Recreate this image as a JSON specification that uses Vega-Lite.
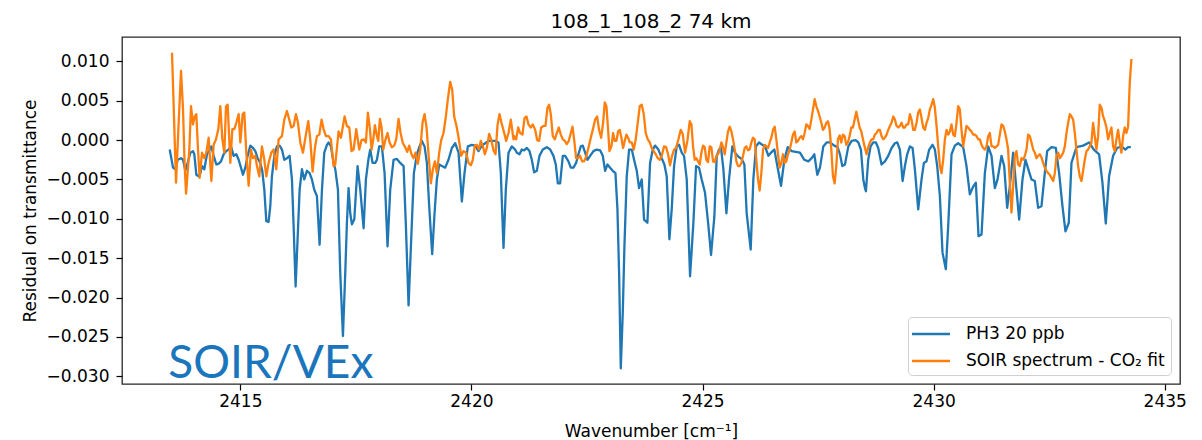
{
"$schema": "https://vega.github.io/schema/vega-lite/v6.json",
"width": 1058,
"height": 347,
"padding": {"left": 21, "top": 12, "right": 10, "bottom": 2},
"background": "white",
"title": {"text": "108_1_108_2 74 km", "fontSize": 20, "fontWeight": "normal", "color": "#000", "offset": -11, "baseline": "alphabetic", "anchor": "middle"},
"datasets": {
"ph3": [
{"w":2413.472,"r":-0.0012},{"w":2413.544,"r":-0.0035},{"w":2413.594,"r":-0.0037},{"w":2413.645,"r":-0.0025},{"w":2413.717,"r":-0.0023},{"w":2413.760,"r":-0.0025},{"w":2413.811,"r":-0.0039},{"w":2413.861,"r":-0.0029},{"w":2413.919,"r":-0.0016},{"w":2413.976,"r":-0.0014},{"w":2414.005,"r":-0.0018},{"w":2414.048,"r":-0.0044},{"w":2414.099,"r":-0.0046},{"w":2414.135,"r":-0.0042},{"w":2414.171,"r":-0.0033},{"w":2414.221,"r":-0.0037},{"w":2414.279,"r":-0.0018},{"w":2414.337,"r":-0.0012},{"w":2414.373,"r":-0.0008},{"w":2414.423,"r":-0.0020},{"w":2414.481,"r":-0.0031},{"w":2414.531,"r":-0.0030},{"w":2414.582,"r":-0.0027},{"w":2414.639,"r":-0.0018},{"w":2414.697,"r":-0.0014},{"w":2414.747,"r":-0.0012},{"w":2414.798,"r":-0.0008},{"w":2414.856,"r":-0.0020},{"w":2414.913,"r":-0.0018},{"w":2414.964,"r":-0.0025},{"w":2415.014,"r":-0.0035},{"w":2415.057,"r":-0.0044},{"w":2415.108,"r":-0.0035},{"w":2415.158,"r":-0.0020},{"w":2415.216,"r":-0.0007},{"w":2415.274,"r":-0.0010},{"w":2415.324,"r":-0.0014},{"w":2415.374,"r":-0.0023},{"w":2415.432,"r":-0.0029},{"w":2415.475,"r":-0.0039},{"w":2415.519,"r":-0.0063},{"w":2415.562,"r":-0.0103},{"w":2415.612,"r":-0.0104},{"w":2415.648,"r":-0.0084},{"w":2415.684,"r":-0.0046},{"w":2415.735,"r":-0.0020},{"w":2415.792,"r":-0.0008},{"w":2415.850,"r":-0.0007},{"w":2415.901,"r":-0.0012},{"w":2415.951,"r":-0.0025},{"w":2416.009,"r":-0.0023},{"w":2416.066,"r":-0.0020},{"w":2416.117,"r":-0.0050},{"w":2416.153,"r":-0.0109},{"w":2416.196,"r":-0.0186},{"w":2416.239,"r":-0.0126},{"w":2416.283,"r":-0.0063},{"w":2416.333,"r":-0.0037},{"w":2416.383,"r":-0.0050},{"w":2416.441,"r":-0.0039},{"w":2416.499,"r":-0.0042},{"w":2416.549,"r":-0.0050},{"w":2416.600,"r":-0.0063},{"w":2416.657,"r":-0.0071},{"w":2416.715,"r":-0.0133},{"w":2416.766,"r":-0.0063},{"w":2416.816,"r":-0.0016},{"w":2416.874,"r":-0.0006},{"w":2416.910,"r":-0.0003},{"w":2416.960,"r":-0.0008},{"w":2417.018,"r":-0.0029},
{"w":2417.054,"r":-0.0037},{"w":2417.112,"r":-0.0063},{"w":2417.162,"r":-0.0169},{"w":2417.220,"r":-0.0249},{"w":2417.270,"r":-0.0169},{"w":2417.306,"r":-0.0105},{"w":2417.342,"r":-0.0061},{"w":2417.378,"r":-0.0093},{"w":2417.414,"r":-0.0107},{"w":2417.465,"r":-0.0101},{"w":2417.537,"r":-0.0033},{"w":2417.595,"r":-0.0063},{"w":2417.667,"r":-0.0112},{"w":2417.717,"r":-0.0050},{"w":2417.775,"r":-0.0023},{"w":2417.811,"r":-0.0012},{"w":2417.861,"r":-0.0029},{"w":2417.919,"r":-0.0029},{"w":2417.955,"r":-0.0025},{"w":2418.005,"r":-0.0008},{"w":2418.063,"r":-0.0008},{"w":2418.121,"r":-0.0042},{"w":2418.185,"r":-0.0135},{"w":2418.243,"r":-0.0063},{"w":2418.315,"r":-0.0025},{"w":2418.387,"r":-0.0024},{"w":2418.459,"r":-0.0029},{"w":2418.532,"r":-0.0033},{"w":2418.582,"r":-0.0109},{"w":2418.640,"r":-0.0210},{"w":2418.697,"r":-0.0126},{"w":2418.755,"r":-0.0042},{"w":2418.820,"r":-0.0018},{"w":2418.877,"r":-0.0008},{"w":2418.928,"r":-0.0001},{"w":2418.986,"r":-0.0008},{"w":2419.036,"r":-0.0029},{"w":2419.086,"r":-0.0084},{"w":2419.151,"r":-0.0145},{"w":2419.202,"r":-0.0093},{"w":2419.252,"r":-0.0050},{"w":2419.303,"r":-0.0031},{"w":2419.360,"r":-0.0033},{"w":2419.432,"r":-0.0035},{"w":2419.504,"r":-0.0025},{"w":2419.577,"r":-0.0010},{"w":2419.649,"r":-0.0004},{"w":2419.721,"r":-0.0016},{"w":2419.793,"r":-0.0078},{"w":2419.850,"r":-0.0042},{"w":2419.922,"r":-0.0008},{"w":2420.009,"r":-0.0006},{"w":2420.081,"r":-0.0007},{"w":2420.153,"r":-0.0014},{"w":2420.225,"r":-0.0007},{"w":2420.297,"r":-0.0004},{"w":2420.369,"r":-0.0001},{"w":2420.441,"r":-0.0001},{"w":2420.513,"r":-0.0001},{"w":2420.586,"r":-0.0003},{"w":2420.636,"r":-0.0042},{"w":2420.694,"r":-0.0137},{"w":2420.744,"r":-0.0063},{"w":2420.802,"r":-0.0016},{"w":2420.874,"r":-0.0008},{"w":2420.946,"r":-0.0012},
{"w":2420.982,"r":-0.0016},{"w":2421.040,"r":-0.0018},{"w":2421.090,"r":-0.0012},{"w":2421.141,"r":-0.0013},{"w":2421.198,"r":-0.0010},{"w":2421.256,"r":-0.0014},{"w":2421.306,"r":-0.0025},{"w":2421.357,"r":-0.0041},{"w":2421.415,"r":-0.0039},{"w":2421.472,"r":-0.0020},{"w":2421.544,"r":-0.0012},{"w":2421.631,"r":-0.0009},{"w":2421.703,"r":-0.0012},{"w":2421.775,"r":-0.0020},{"w":2421.825,"r":-0.0031},{"w":2421.869,"r":-0.0055},{"w":2421.919,"r":-0.0055},{"w":2421.977,"r":-0.0020},{"w":2422.027,"r":-0.0020},{"w":2422.099,"r":-0.0027},{"w":2422.150,"r":-0.0035},{"w":2422.207,"r":-0.0035},{"w":2422.265,"r":-0.0029},{"w":2422.315,"r":-0.0018},{"w":2422.366,"r":-0.0008},{"w":2422.409,"r":-0.0007},{"w":2422.460,"r":-0.0016},{"w":2422.510,"r":-0.0025},{"w":2422.568,"r":-0.0020},{"w":2422.640,"r":-0.0014},{"w":2422.712,"r":-0.0012},{"w":2422.784,"r":-0.0013},{"w":2422.842,"r":-0.0020},{"w":2422.892,"r":-0.0039},{"w":2422.943,"r":-0.0031},{"w":2423.000,"r":-0.0035},{"w":2423.058,"r":-0.0039},{"w":2423.116,"r":-0.0042},{"w":2423.159,"r":-0.0088},{"w":2423.195,"r":-0.0169},{"w":2423.231,"r":-0.0290},{"w":2423.274,"r":-0.0220},{"w":2423.310,"r":-0.0135},{"w":2423.360,"r":-0.0046},{"w":2423.411,"r":-0.0012},{"w":2423.469,"r":-0.0012},{"w":2423.519,"r":-0.0025},{"w":2423.577,"r":-0.0039},{"w":2423.627,"r":-0.0061},{"w":2423.685,"r":-0.0050},{"w":2423.735,"r":-0.0101},{"w":2423.807,"r":-0.0105},{"w":2423.865,"r":-0.0029},{"w":2423.923,"r":-0.0012},{"w":2423.973,"r":-0.0007},{"w":2424.045,"r":-0.0012},{"w":2424.117,"r":-0.0023},{"w":2424.175,"r":-0.0031},{"w":2424.225,"r":-0.0046},{"w":2424.283,"r":-0.0126},{"w":2424.333,"r":-0.0088},{"w":2424.384,"r":-0.0033},{"w":2424.441,"r":-0.0008},{"w":2424.492,"r":-0.0006},{"w":2424.550,"r":-0.0016},{"w":2424.600,"r":-0.0020},{"w":2424.658,"r":-0.0050},{"w":2424.730,"r":-0.0173},
{"w":2424.802,"r":-0.0105},{"w":2424.860,"r":-0.0033},{"w":2424.925,"r":-0.0035},{"w":2424.982,"r":-0.0050},{"w":2425.054,"r":-0.0067},{"w":2425.127,"r":-0.0109},{"w":2425.184,"r":-0.0146},{"w":2425.256,"r":-0.0097},{"w":2425.307,"r":-0.0020},{"w":2425.357,"r":-0.0012},{"w":2425.400,"r":-0.0010},{"w":2425.451,"r":-0.0037},{"w":2425.516,"r":-0.0093},{"w":2425.573,"r":-0.0050},{"w":2425.645,"r":-0.0008},{"w":2425.703,"r":-0.0016},{"w":2425.775,"r":-0.0021},{"w":2425.847,"r":-0.0024},{"w":2425.905,"r":-0.0031},{"w":2425.955,"r":-0.0093},{"w":2426.042,"r":-0.0139},{"w":2426.099,"r":-0.0050},{"w":2426.157,"r":-0.0008},{"w":2426.222,"r":-0.0003},{"w":2426.294,"r":-0.0006},{"w":2426.352,"r":-0.0008},{"w":2426.424,"r":-0.0020},{"w":2426.481,"r":-0.0016},{"w":2426.554,"r":-0.0012},{"w":2426.618,"r":-0.0033},{"w":2426.698,"r":-0.0058},{"w":2426.770,"r":-0.0025},{"w":2426.842,"r":-0.0009},{"w":2426.928,"r":-0.0014},{"w":2427.015,"r":-0.0015},{"w":2427.108,"r":-0.0016},{"w":2427.202,"r":-0.0025},{"w":2427.289,"r":-0.0027},{"w":2427.361,"r":-0.0023},{"w":2427.418,"r":-0.0018},{"w":2427.483,"r":-0.0044},{"w":2427.541,"r":-0.0035},{"w":2427.613,"r":-0.0008},{"w":2427.685,"r":-0.0003},{"w":2427.757,"r":-0.0003},{"w":2427.851,"r":-0.0007},{"w":2427.923,"r":-0.0009},{"w":2427.973,"r":-0.0018},{"w":2428.024,"r":-0.0033},{"w":2428.081,"r":-0.0031},{"w":2428.154,"r":-0.0008},{"w":2428.226,"r":-0.0001},{"w":2428.312,"r":0.0000},{"w":2428.370,"r":-0.0003},{"w":2428.427,"r":-0.0012},{"w":2428.478,"r":-0.0050},{"w":2428.514,"r":-0.0061},
{"w":2428.535,"r":-0.0065},{"w":2428.585,"r":-0.0025},{"w":2428.636,"r":-0.0008},{"w":2428.693,"r":-0.0003},{"w":2428.751,"r":-0.0003},{"w":2428.801,"r":-0.0010},{"w":2428.873,"r":-0.0031},{"w":2428.946,"r":-0.0027},{"w":2429.018,"r":-0.0020},{"w":2429.090,"r":-0.0010},{"w":2429.162,"r":-0.0004},{"w":2429.212,"r":-0.0003},{"w":2429.270,"r":-0.0012},{"w":2429.328,"r":-0.0052},{"w":2429.378,"r":-0.0033},{"w":2429.428,"r":-0.0018},{"w":2429.486,"r":-0.0008},{"w":2429.544,"r":-0.0010},{"w":2429.594,"r":-0.0037},{"w":2429.666,"r":-0.0088},{"w":2429.738,"r":-0.0050},{"w":2429.789,"r":-0.0029},{"w":2429.846,"r":-0.0027},{"w":2429.904,"r":-0.0012},{"w":2429.976,"r":-0.0006},{"w":2430.027,"r":-0.0012},{"w":2430.077,"r":-0.0033},{"w":2430.135,"r":-0.0071},{"w":2430.192,"r":-0.0143},{"w":2430.264,"r":-0.0164},{"w":2430.315,"r":-0.0109},{"w":2430.387,"r":-0.0018},{"w":2430.459,"r":-0.0007},{"w":2430.531,"r":-0.0004},{"w":2430.639,"r":-0.0009},{"w":2430.711,"r":-0.0033},{"w":2430.783,"r":-0.0069},{"w":2430.856,"r":-0.0059},{"w":2430.913,"r":-0.0054},{"w":2430.971,"r":-0.0122},{"w":2431.036,"r":-0.0120},{"w":2431.108,"r":-0.0042},{"w":2431.180,"r":-0.0008},{"w":2431.252,"r":-0.0020},{"w":2431.324,"r":-0.0061},{"w":2431.382,"r":-0.0050},{"w":2431.468,"r":-0.0020},{"w":2431.526,"r":-0.0033},{"w":2431.591,"r":-0.0086},{"w":2431.648,"r":-0.0059},{"w":2431.720,"r":-0.0016},{"w":2431.792,"r":-0.0063},{"w":2431.850,"r":-0.0101},{"w":2431.922,"r":-0.0050},{"w":2431.987,"r":-0.0025},{"w":2432.059,"r":-0.0039},{"w":2432.117,"r":-0.0050},{"w":2432.189,"r":-0.0052},{"w":2432.261,"r":-0.0086},
{"w":2432.333,"r":-0.0084},{"w":2432.405,"r":-0.0042},{"w":2432.456,"r":-0.0014},{"w":2432.549,"r":-0.0009},{"w":2432.643,"r":-0.0010},{"w":2432.715,"r":-0.0042},{"w":2432.787,"r":-0.0084},{"w":2432.852,"r":-0.0116},{"w":2432.924,"r":-0.0105},{"w":2432.982,"r":-0.0029},{"w":2433.090,"r":-0.0009},{"w":2433.234,"r":-0.0007},{"w":2433.364,"r":-0.0003},{"w":2433.465,"r":-0.0012},{"w":2433.580,"r":-0.0018},{"w":2433.652,"r":-0.0054},{"w":2433.724,"r":-0.0106},{"w":2433.796,"r":-0.0046},{"w":2433.883,"r":-0.0020},{"w":2433.969,"r":-0.0010},{"w":2434.063,"r":-0.0008},{"w":2434.149,"r":-0.0012},{"w":2434.207,"r":-0.0009},{"w":2434.265,"r":-0.0009}
],
"soir": [
{"w":2413.522,"r":0.0111},{"w":2413.558,"r":0.0043},{"w":2413.609,"r":-0.0054},{"w":2413.666,"r":0.0022},{"w":2413.717,"r":0.0088},{"w":2413.760,"r":0.0039},{"w":2413.796,"r":-0.0033},{"w":2413.826,"r":-0.0068},{"w":2413.897,"r":-0.0012},{"w":2413.933,"r":0.0043},{"w":2413.976,"r":0.0020},{"w":2414.012,"r":0.0030},{"w":2414.048,"r":0.0033},{"w":2414.084,"r":-0.0012},{"w":2414.120,"r":-0.0048},{"w":2414.171,"r":-0.0016},{"w":2414.221,"r":-0.0023},{"w":2414.264,"r":-0.0016},{"w":2414.315,"r":0.0003},{"w":2414.373,"r":-0.0052},{"w":2414.423,"r":-0.0006},{"w":2414.474,"r":0.0001},{"w":2414.524,"r":0.0014},{"w":2414.567,"r":0.0043},{"w":2414.611,"r":0.0001},{"w":2414.654,"r":-0.0016},{"w":2414.690,"r":0.0043},{"w":2414.726,"r":0.0045},{"w":2414.784,"r":-0.0029},{"w":2414.827,"r":0.0014},{"w":2414.870,"r":0.0014},{"w":2414.913,"r":0.0022},{"w":2414.964,"r":0.0033},{"w":2415.000,"r":-0.0003},{"w":2415.050,"r":0.0033},{"w":2415.086,"r":0.0035},{"w":2415.129,"r":-0.0016},{"w":2415.180,"r":-0.0058},{"w":2415.230,"r":-0.0012},{"w":2415.274,"r":-0.0023},{"w":2415.324,"r":-0.0020},{"w":2415.360,"r":-0.0033},{"w":2415.410,"r":-0.0046},{"w":2415.468,"r":-0.0008},{"w":2415.519,"r":-0.0025},{"w":2415.562,"r":-0.0046},{"w":2415.612,"r":-0.0029},{"w":2415.670,"r":-0.0016},{"w":2415.720,"r":-0.0012},{"w":2415.778,"r":-0.0037},{"w":2415.829,"r":0.0001},{"w":2415.865,"r":0.0003},{"w":2415.901,"r":0.0005},{"w":2415.951,"r":0.0026},{"w":2416.009,"r":0.0037},{"w":2416.059,"r":0.0026},{"w":2416.102,"r":0.0016},{"w":2416.153,"r":0.0018},{"w":2416.203,"r":0.0033},{"w":2416.247,"r":0.0022},{"w":2416.297,"r":-0.0003},{"w":2416.355,"r":-0.0016},{"w":2416.413,"r":0.0005},{"w":2416.470,"r":0.0024},{"w":2416.513,"r":0.0001},{"w":2416.564,"r":-0.0040},{"w":2416.614,"r":-0.0010},{"w":2416.657,"r":0.0005},{"w":2416.708,"r":0.0007},{"w":2416.758,"r":0.0026},{"w":2416.801,"r":0.0014},{"w":2416.852,"r":0.0005},{"w":2416.910,"r":0.0005},{"w":2416.960,"r":0.0001},{"w":2417.018,"r":-0.0033},
{"w":2417.054,"r":-0.0031},{"w":2417.126,"r":0.0011},{"w":2417.177,"r":0.0003},{"w":2417.256,"r":0.0030},{"w":2417.306,"r":0.0018},{"w":2417.357,"r":0.0016},{"w":2417.407,"r":-0.0014},{"w":2417.450,"r":-0.0012},{"w":2417.508,"r":0.0014},{"w":2417.573,"r":-0.0012},{"w":2417.623,"r":0.0000},{"w":2417.674,"r":0.0001},{"w":2417.717,"r":-0.0003},{"w":2417.760,"r":0.0035},{"w":2417.804,"r":0.0014},{"w":2417.840,"r":-0.0012},{"w":2417.876,"r":0.0001},{"w":2417.912,"r":0.0019},{"w":2417.948,"r":0.0007},{"w":2417.984,"r":-0.0001},{"w":2418.020,"r":0.0027},{"w":2418.056,"r":0.0016},{"w":2418.092,"r":-0.0012},{"w":2418.142,"r":0.0001},{"w":2418.185,"r":0.0009},{"w":2418.229,"r":-0.0003},{"w":2418.279,"r":-0.0009},{"w":2418.330,"r":-0.0007},{"w":2418.373,"r":0.0001},{"w":2418.423,"r":0.0027},{"w":2418.467,"r":0.0009},{"w":2418.517,"r":-0.0004},{"w":2418.567,"r":-0.0009},{"w":2418.611,"r":-0.0015},{"w":2418.654,"r":-0.0007},{"w":2418.704,"r":-0.0018},{"w":2418.748,"r":-0.0023},{"w":2418.791,"r":-0.0016},{"w":2418.841,"r":-0.0030},{"w":2418.892,"r":-0.0012},{"w":2418.942,"r":0.0022},{"w":2418.986,"r":0.0033},{"w":2419.029,"r":0.0016},{"w":2419.072,"r":-0.0018},{"w":2419.122,"r":-0.0055},{"w":2419.166,"r":-0.0037},{"w":2419.209,"r":-0.0027},{"w":2419.252,"r":-0.0042},{"w":2419.303,"r":-0.0016},{"w":2419.346,"r":0.0000},{"w":2419.396,"r":0.0009},{"w":2419.447,"r":0.0030},{"w":2419.490,"r":0.0052},{"w":2419.540,"r":0.0074},{"w":2419.584,"r":0.0064},{"w":2419.627,"r":0.0030},{"w":2419.677,"r":0.0018},{"w":2419.728,"r":0.0001},{"w":2419.778,"r":-0.0020},{"w":2419.829,"r":-0.0014},{"w":2419.886,"r":-0.0016},{"w":2419.937,"r":-0.0029},{"w":2419.987,"r":-0.0032},{"w":2420.030,"r":-0.0025},{"w":2420.074,"r":-0.0007},{"w":2420.117,"r":-0.0006},{"w":2420.160,"r":-0.0012},{"w":2420.203,"r":-0.0001},{"w":2420.247,"r":-0.0008},{"w":2420.290,"r":-0.0018},{"w":2420.333,"r":-0.0010},{"w":2420.384,"r":0.0008},{"w":2420.427,"r":0.0001},{"w":2420.477,"r":-0.0013},{"w":2420.521,"r":-0.0018},{"w":2420.564,"r":0.0019},{"w":2420.607,"r":0.0033},{"w":2420.650,"r":0.0022},{"w":2420.701,"r":0.0011},{"w":2420.751,"r":-0.0001},{"w":2420.802,"r":0.0009},{"w":2420.852,"r":0.0026},{"w":2420.910,"r":0.0001},
{"w":2420.924,"r":0.0005},{"w":2420.968,"r":0.0001},{"w":2421.011,"r":0.0016},{"w":2421.054,"r":0.0009},{"w":2421.105,"r":0.0007},{"w":2421.148,"r":0.0028},{"w":2421.191,"r":0.0030},{"w":2421.234,"r":0.0020},{"w":2421.285,"r":0.0016},{"w":2421.328,"r":0.0020},{"w":2421.379,"r":0.0013},{"w":2421.422,"r":0.0000},{"w":2421.465,"r":-0.0001},{"w":2421.508,"r":0.0016},{"w":2421.559,"r":0.0018},{"w":2421.602,"r":0.0018},{"w":2421.645,"r":0.0041},{"w":2421.681,"r":0.0045},{"w":2421.717,"r":0.0033},{"w":2421.760,"r":0.0005},{"w":2421.804,"r":0.0001},{"w":2421.847,"r":0.0009},{"w":2421.890,"r":0.0016},{"w":2421.934,"r":0.0007},{"w":2421.977,"r":0.0001},{"w":2422.020,"r":-0.0001},{"w":2422.063,"r":-0.0005},{"w":2422.106,"r":-0.0001},{"w":2422.150,"r":0.0009},{"w":2422.186,"r":0.0017},{"w":2422.222,"r":0.0001},{"w":2422.265,"r":-0.0023},{"w":2422.308,"r":-0.0023},{"w":2422.351,"r":-0.0020},{"w":2422.395,"r":-0.0027},{"w":2422.438,"r":-0.0027},{"w":2422.488,"r":-0.0020},{"w":2422.539,"r":-0.0008},{"w":2422.582,"r":0.0003},{"w":2422.625,"r":0.0013},{"w":2422.676,"r":0.0026},{"w":2422.719,"r":0.0030},{"w":2422.762,"r":0.0013},{"w":2422.806,"r":0.0003},{"w":2422.849,"r":0.0022},{"w":2422.885,"r":0.0048},{"w":2422.921,"r":0.0043},{"w":2422.957,"r":0.0013},{"w":2422.986,"r":-0.0014},{"w":2423.029,"r":-0.0008},{"w":2423.065,"r":0.0009},{"w":2423.101,"r":-0.0001},{"w":2423.137,"r":-0.0001},{"w":2423.173,"r":0.0011},{"w":2423.209,"r":0.0013},{"w":2423.245,"r":0.0003},{"w":2423.281,"r":-0.0010},{"w":2423.317,"r":-0.0001},{"w":2423.353,"r":0.0007},{"w":2423.389,"r":0.0003},{"w":2423.425,"r":-0.0003},{"w":2423.469,"r":-0.0003},{"w":2423.512,"r":-0.0012},{"w":2423.555,"r":0.0001},{"w":2423.598,"r":0.0022},{"w":2423.642,"r":0.0043},{"w":2423.685,"r":0.0045},{"w":2423.728,"r":0.0033},{"w":2423.771,"r":0.0009},{"w":2423.815,"r":0.0001},{"w":2423.858,"r":-0.0003},{"w":2423.901,"r":-0.0010},{"w":2423.944,"r":-0.0014},{"w":2423.988,"r":-0.0018},{"w":2424.031,"r":-0.0023},{"w":2424.074,"r":-0.0025},{"w":2424.117,"r":-0.0020},{"w":2424.168,"r":-0.0008},{"w":2424.211,"r":-0.0009},{"w":2424.254,"r":-0.0018},{"w":2424.297,"r":-0.0032},{"w":2424.341,"r":-0.0020},{"w":2424.384,"r":-0.0012},{"w":2424.427,"r":-0.0010},{"w":2424.478,"r":0.0001},{"w":2424.528,"r":0.0013},{"w":2424.571,"r":0.0008},{"w":2424.622,"r":-0.0016},{"w":2424.672,"r":-0.0001},
{"w":2424.723,"r":0.0024},{"w":2424.759,"r":0.0020},{"w":2424.795,"r":-0.0008},{"w":2424.831,"r":-0.0025},{"w":2424.867,"r":-0.0023},{"w":2424.903,"r":-0.0027},{"w":2424.939,"r":-0.0031},{"w":2424.975,"r":-0.0016},{"w":2425.011,"r":-0.0007},{"w":2425.047,"r":-0.0009},{"w":2425.083,"r":-0.0025},{"w":2425.119,"r":-0.0028},{"w":2425.155,"r":-0.0008},{"w":2425.191,"r":-0.0009},{"w":2425.227,"r":-0.0027},{"w":2425.263,"r":-0.0028},{"w":2425.299,"r":-0.0020},{"w":2425.336,"r":-0.0018},{"w":2425.372,"r":-0.0012},{"w":2425.408,"r":-0.0003},{"w":2425.444,"r":-0.0009},{"w":2425.480,"r":-0.0018},{"w":2425.516,"r":-0.0003},{"w":2425.552,"r":0.0011},{"w":2425.588,"r":0.0017},{"w":2425.624,"r":0.0011},{"w":2425.660,"r":0.0001},{"w":2425.696,"r":-0.0012},{"w":2425.732,"r":-0.0027},{"w":2425.768,"r":-0.0033},{"w":2425.804,"r":-0.0033},{"w":2425.840,"r":-0.0029},{"w":2425.876,"r":-0.0020},{"w":2425.912,"r":-0.0010},{"w":2425.948,"r":-0.0008},{"w":2425.984,"r":-0.0013},{"w":2426.020,"r":-0.0012},{"w":2426.056,"r":-0.0003},{"w":2426.092,"r":0.0003},{"w":2426.128,"r":0.0001},{"w":2426.164,"r":-0.0025},{"w":2426.200,"r":-0.0050},{"w":2426.236,"r":-0.0064},{"w":2426.272,"r":-0.0042},{"w":2426.309,"r":-0.0012},{"w":2426.345,"r":-0.0006},{"w":2426.381,"r":-0.0008},{"w":2426.417,"r":-0.0010},{"w":2426.453,"r":-0.0003},{"w":2426.489,"r":0.0003},{"w":2426.525,"r":0.0013},{"w":2426.561,"r":0.0017},{"w":2426.597,"r":0.0001},{"w":2426.633,"r":-0.0018},{"w":2426.669,"r":-0.0035},{"w":2426.705,"r":-0.0029},{"w":2426.741,"r":-0.0018},{"w":2426.777,"r":-0.0029},{"w":2426.813,"r":-0.0027},{"w":2426.849,"r":-0.0018},{"w":2426.885,"r":-0.0012},{"w":2426.921,"r":-0.0003},{"w":2426.957,"r":0.0007},{"w":2426.993,"r":0.0011},{"w":2427.029,"r":-0.0003},{"w":2427.065,"r":-0.0001},{"w":2427.101,"r":0.0003},{"w":2427.137,"r":0.0005},{"w":2427.173,"r":0.0001},{"w":2427.209,"r":0.0009},{"w":2427.245,"r":0.0020},{"w":2427.281,"r":0.0018},{"w":2427.317,"r":0.0014},{"w":2427.354,"r":0.0026},{"w":2427.390,"r":0.0039},{"w":2427.426,"r":0.0052},{"w":2427.462,"r":0.0043},{"w":2427.498,"r":0.0037},{"w":2427.534,"r":0.0030},{"w":2427.570,"r":0.0022},{"w":2427.606,"r":0.0013},{"w":2427.642,"r":0.0016},{"w":2427.678,"r":0.0022},{"w":2427.714,"r":0.0024},{"w":2427.750,"r":0.0014},{"w":2427.786,"r":-0.0012},{"w":2427.822,"r":-0.0046},{"w":2427.858,"r":-0.0055},{"w":2427.894,"r":-0.0033},{"w":2427.930,"r":0.0001},{"w":2427.966,"r":0.0006},{"w":2428.002,"r":-0.0003},{"w":2428.038,"r":0.0007},{"w":2428.074,"r":0.0005},{"w":2428.110,"r":-0.0006},{"w":2428.146,"r":-0.0003},{"w":2428.182,"r":0.0005},{"w":2428.218,"r":0.0016},{"w":2428.254,"r":0.0016},{"w":2428.290,"r":0.0026},{"w":2428.327,"r":0.0036},{"w":2428.363,"r":0.0026},{"w":2428.399,"r":0.0016},{"w":2428.435,"r":0.0011},{"w":2428.471,"r":0.0001},
{"w":2428.506,"r":-0.0008},{"w":2428.549,"r":-0.0018},{"w":2428.585,"r":-0.0009},{"w":2428.621,"r":-0.0003},{"w":2428.657,"r":0.0001},{"w":2428.693,"r":0.0001},{"w":2428.729,"r":0.0007},{"w":2428.765,"r":0.0009},{"w":2428.801,"r":0.0013},{"w":2428.837,"r":0.0013},{"w":2428.873,"r":0.0005},{"w":2428.910,"r":0.0001},{"w":2428.946,"r":0.0003},{"w":2428.982,"r":0.0007},{"w":2429.018,"r":0.0013},{"w":2429.054,"r":0.0018},{"w":2429.090,"r":0.0022},{"w":2429.126,"r":0.0030},{"w":2429.162,"r":0.0026},{"w":2429.198,"r":0.0018},{"w":2429.234,"r":0.0016},{"w":2429.270,"r":0.0018},{"w":2429.306,"r":0.0022},{"w":2429.342,"r":0.0016},{"w":2429.378,"r":0.0016},{"w":2429.414,"r":0.0020},{"w":2429.450,"r":0.0020},{"w":2429.486,"r":0.0033},{"w":2429.522,"r":0.0026},{"w":2429.558,"r":0.0013},{"w":2429.594,"r":0.0013},{"w":2429.630,"r":0.0022},{"w":2429.666,"r":0.0035},{"w":2429.702,"r":0.0039},{"w":2429.738,"r":0.0028},{"w":2429.774,"r":0.0016},{"w":2429.810,"r":0.0013},{"w":2429.846,"r":0.0022},{"w":2429.882,"r":0.0028},{"w":2429.918,"r":0.0039},{"w":2429.955,"r":0.0045},{"w":2429.991,"r":0.0052},{"w":2430.027,"r":0.0041},{"w":2430.063,"r":0.0018},{"w":2430.099,"r":-0.0008},{"w":2430.135,"r":-0.0033},{"w":2430.171,"r":-0.0042},{"w":2430.207,"r":-0.0025},{"w":2430.243,"r":0.0001},{"w":2430.279,"r":0.0013},{"w":2430.315,"r":0.0007},{"w":2430.351,"r":0.0011},{"w":2430.387,"r":0.0020},{"w":2430.423,"r":0.0007},{"w":2430.459,"r":0.0005},{"w":2430.495,"r":0.0022},{"w":2430.531,"r":0.0043},{"w":2430.567,"r":0.0039},{"w":2430.603,"r":0.0013},{"w":2430.639,"r":-0.0008},{"w":2430.675,"r":0.0005},{"w":2430.711,"r":0.0018},{"w":2430.747,"r":0.0016},{"w":2430.783,"r":0.0013},{"w":2430.819,"r":0.0011},{"w":2430.856,"r":0.0007},{"w":2430.892,"r":0.0007},{"w":2430.928,"r":0.0005},{"w":2430.964,"r":0.0001},{"w":2431.000,"r":0.0001},{"w":2431.036,"r":-0.0006},{"w":2431.072,"r":-0.0010},{"w":2431.108,"r":-0.0012},{"w":2431.144,"r":-0.0008},{"w":2431.180,"r":0.0005},{"w":2431.216,"r":0.0009},{"w":2431.252,"r":-0.0008},{"w":2431.288,"r":-0.0008},{"w":2431.324,"r":-0.0010},{"w":2431.360,"r":-0.0008},{"w":2431.396,"r":-0.0006},{"w":2431.432,"r":0.0007},{"w":2431.468,"r":0.0020},{"w":2431.504,"r":0.0018},{"w":2431.540,"r":0.0011},{"w":2431.576,"r":0.0001},{"w":2431.612,"r":-0.0012},{"w":2431.648,"r":-0.0054},{"w":2431.684,"r":-0.0092},{"w":2431.720,"r":-0.0059},{"w":2431.756,"r":-0.0020},{"w":2431.792,"r":-0.0014},{"w":2431.828,"r":-0.0031},{"w":2431.864,"r":-0.0033},{"w":2431.901,"r":-0.0023},{"w":2431.937,"r":-0.0025},{"w":2431.973,"r":-0.0020},{"w":2432.009,"r":-0.0012},{"w":2432.045,"r":0.0007},{"w":2432.081,"r":0.0005},{"w":2432.117,"r":-0.0003},{"w":2432.153,"r":-0.0012},{"w":2432.189,"r":-0.0016},{"w":2432.225,"r":-0.0023},{"w":2432.261,"r":-0.0020},{"w":2432.297,"r":-0.0018},
{"w":2432.333,"r":-0.0022},{"w":2432.369,"r":-0.0029},{"w":2432.405,"r":-0.0035},{"w":2432.441,"r":-0.0039},{"w":2432.477,"r":-0.0042},{"w":2432.513,"r":-0.0044},{"w":2432.549,"r":-0.0048},{"w":2432.586,"r":-0.0052},{"w":2432.622,"r":-0.0042},{"w":2432.658,"r":-0.0020},{"w":2432.694,"r":-0.0016},{"w":2432.730,"r":-0.0023},{"w":2432.766,"r":-0.0020},{"w":2432.802,"r":-0.0016},{"w":2432.838,"r":-0.0008},{"w":2432.874,"r":0.0009},{"w":2432.910,"r":0.0022},{"w":2432.946,"r":0.0033},{"w":2432.982,"r":0.0030},{"w":2433.018,"r":0.0026},{"w":2433.054,"r":0.0009},{"w":2433.090,"r":-0.0012},{"w":2433.126,"r":-0.0033},{"w":2433.162,"r":-0.0046},{"w":2433.198,"r":-0.0052},{"w":2433.234,"r":-0.0039},{"w":2433.270,"r":-0.0025},{"w":2433.306,"r":-0.0014},{"w":2433.342,"r":-0.0012},{"w":2433.378,"r":-0.0008},{"w":2433.414,"r":-0.0003},{"w":2433.450,"r":0.0022},{"w":2433.486,"r":0.0005},{"w":2433.522,"r":-0.0012},{"w":2433.558,"r":0.0005},{"w":2433.594,"r":0.0045},{"w":2433.631,"r":0.0041},{"w":2433.667,"r":0.0030},{"w":2433.703,"r":0.0024},{"w":2433.739,"r":0.0016},{"w":2433.775,"r":0.0001},{"w":2433.811,"r":0.0009},{"w":2433.847,"r":0.0016},{"w":2433.883,"r":-0.0008},{"w":2433.919,"r":-0.0014},{"w":2433.955,"r":0.0001},{"w":2433.991,"r":0.0013},{"w":2434.027,"r":-0.0003},{"w":2434.063,"r":-0.0016},{"w":2434.099,"r":0.0005},{"w":2434.135,"r":0.0016},{"w":2434.171,"r":0.0009},{"w":2434.207,"r":0.0017},{"w":2434.243,"r":0.0073},{"w":2434.279,"r":0.0103}
],
"logo": [{"w":2413.44,"r":-0.0302,"t":"SOIR/VEx"}]
},
"encoding": {
"x": {"field": "w", "type": "quantitative", "scale": {"domain": [2412.44, 2435.33], "nice": false, "zero": false},
 "axis": {"title": "Wavenumber [cm⁻¹]", "values": [2415, 2420, 2425, 2430, 2435], "format": "d", "labelPadding": 3, "titlePadding": 14}},
"y": {"field": "r", "type": "quantitative", "scale": {"domain": [-0.03099, 0.0131], "nice": false, "zero": false},
 "axis": {"title": "Residual on transmittance", "values": [-0.03, -0.025, -0.02, -0.015, -0.01, -0.005, 0, 0.005, 0.01], "format": ".3f", "labelPadding": 7, "titlePadding": 7}}
},
"layer": [
{"data": {"name": "logo"}, "mark": {"type": "text", "align": "left", "baseline": "alphabetic", "font": "Lato", "fontWeight": "normal", "fontSize": 46, "color": "#1a75bc"}, "encoding": {"text": {"field": "t"}}},
{"data": {"name": "ph3"}, "mark": {"type": "line", "strokeWidth": 2.3, "strokeJoin": "round"},
 "encoding": {"color": {"datum": "PH3 20 ppb", "type": "nominal", "scale": {"domain": ["PH3 20 ppb", "SOIR spectrum - CO₂ fit"], "range": ["#1f77b4", "#ff7f0e"]}}}},
{"data": {"name": "soir"}, "mark": {"type": "line", "strokeWidth": 2.3, "strokeJoin": "round"},
 "encoding": {"color": {"datum": "SOIR spectrum - CO₂ fit", "type": "nominal"}}}
],
"config": {
"font": "DejaVu Sans",
"view": {"stroke": "#262626", "strokeWidth": 1.3},
"axis": {"grid": false, "domain": false, "tickColor": "#000", "tickSize": 6, "tickWidth": 1.2, "labelColor": "#000", "labelFontSize": 17, "titleFontSize": 17, "titleColor": "#000", "titleFontWeight": "normal", "labelFont": "DejaVu Sans", "titleFont": "DejaVu Sans"},
"legend": {"orient": "bottom-right", "offset": 9, "title": null, "fillColor": "white", "strokeColor": "#d0d0d0", "cornerRadius": 4, "padding": 6, "labelFontSize": 17, "labelLimit": 400, "labelColor": "#000", "labelFont": "DejaVu Sans", "symbolType": "M-2,0H2", "symbolSize": 361, "symbolStrokeWidth": 2.5, "symbolOffset": 6, "labelOffset": 24, "rowPadding": 8}
}
}
